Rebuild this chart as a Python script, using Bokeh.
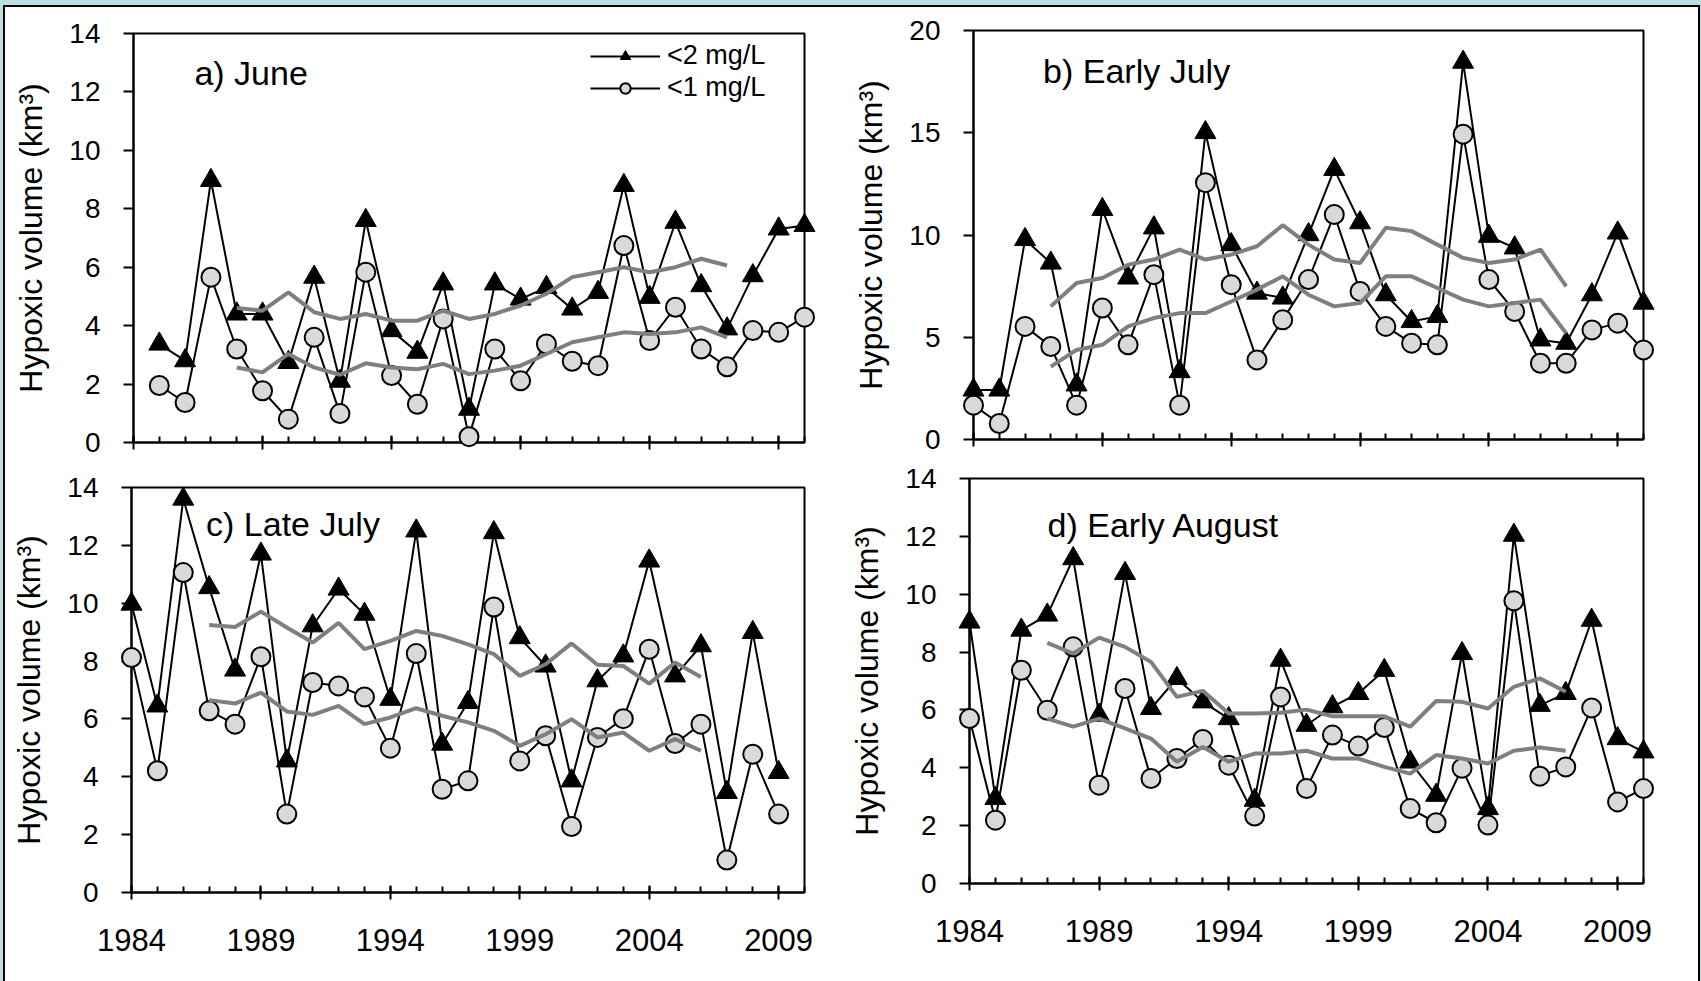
from bokeh.plotting import figure
from bokeh.layouts import row, column
from bokeh.models import (Range1d, FixedTicker, Label, Legend, LegendItem,
                          CustomLabelingPolicy)
from bokeh.embed import file_html
from bokeh.resources import INLINE

# ---------------- data: hypoxic volume (km^3) ----------------
# a) June
years_june = list(range(1985, 2011))
june_lt2 = [3.37, 2.80, 8.97, 4.40, 4.40, 2.74, 5.66, 2.10, 7.60, 3.83, 3.09, 5.43, 1.14,
            5.43, 4.91, 5.31, 4.57, 5.14, 8.80, 4.97, 7.54, 5.37, 3.89, 5.71, 7.31, 7.43]
june_lt1 = [1.95, 1.37, 5.66, 3.20, 1.77, 0.80, 3.60, 0.99, 5.83, 2.29, 1.31, 4.23, 0.20,
            3.20, 2.11, 3.37, 2.78, 2.63, 6.74, 3.49, 4.63, 3.20, 2.59, 3.83, 3.77, 4.29]
years_june_avg = list(range(1988, 2008))
june_lt2_avg = [4.60, 4.51, 5.14, 4.46, 4.23, 4.40, 4.17, 4.17, 4.51, 4.23,
                4.40, 4.69, 5.09, 5.66, 5.83, 6.00, 5.83, 6.00, 6.29, 6.06]
june_lt1_avg = [2.57, 2.40, 3.03, 2.57, 2.32, 2.71, 2.57, 2.51, 2.69, 2.34,
                2.46, 2.63, 3.03, 3.43, 3.60, 3.77, 3.71, 3.77, 3.94, 3.60]

# b) Early July
years_ejul = list(range(1984, 2011))
ejul_lt2 = [2.42, 2.42, 9.78, 8.63, 2.67, 11.25, 7.90, 10.35, 3.32, 15.01, 9.53, 7.16, 6.92, 10.02,
            13.21, 10.60, 7.08, 5.77, 6.02, 18.45, 9.94, 9.37, 4.87, 4.71, 7.08, 10.10, 6.67]
ejul_lt1 = [1.68, 0.78, 5.53, 4.55, 1.68, 6.43, 4.63, 8.06, 1.68, 12.56, 7.57, 3.89, 5.85, 7.82,
            11.00, 7.24, 5.53, 4.71, 4.63, 14.93, 7.82, 6.26, 3.73, 3.73, 5.36, 5.69, 4.38]
years_ejul_avg = list(range(1987, 2008))
ejul_lt2_avg = [6.51, 7.65, 7.90, 8.55, 8.80, 9.29, 8.80, 9.04, 9.45, 10.48, 9.53,
                8.80, 8.63, 10.35, 10.19, 9.53, 8.88, 8.63, 8.80, 9.29, 7.49]
ejul_lt1_avg = [3.56, 4.38, 4.63, 5.53, 5.94, 6.18, 6.18, 6.75, 7.33, 7.98, 7.08,
                6.51, 6.67, 7.98, 7.98, 7.41, 6.84, 6.51, 6.67, 6.84, 5.20]

# c) Late July
years_ljul = list(range(1984, 2010))
ljul_lt2 = [9.97, 6.45, 13.60, 10.54, 7.69, 11.70, 4.55, 9.22, 10.49, 9.62, 6.68, 12.50, 5.13,
            6.57, 12.44, 8.81, 7.83, 3.86, 7.32, 8.18, 11.46, 7.49, 8.53, 3.46, 8.99, 4.15]
ljul_lt1 = [8.12, 4.21, 11.06, 6.28, 5.82, 8.15, 2.71, 7.26, 7.14, 6.76, 4.99, 8.26, 3.57,
            3.86, 9.87, 4.55, 5.42, 2.28, 5.36, 6.01, 8.41, 5.15, 5.82, 1.12, 4.78, 2.71]
years_ljul_avg = list(range(1987, 2007))
ljul_lt2_avg = [9.25, 9.18, 9.71, 9.16, 8.64, 9.32, 8.41, 8.70, 9.04, 8.87,
                8.58, 8.24, 7.49, 7.89, 8.61, 7.87, 7.83, 7.22, 7.95, 7.45]
ljul_lt1_avg = [6.65, 6.53, 6.91, 6.26, 6.14, 6.45, 5.82, 6.05, 6.37, 6.11,
                5.88, 5.59, 5.07, 5.47, 5.99, 5.36, 5.53, 4.90, 5.30, 4.90]

# d) Early August
years_eaug = list(range(1984, 2011))
eaug_lt2 = [9.04, 2.94, 8.76, 9.28, 11.23, 5.82, 10.72, 6.05, 7.09, 6.28, 5.70, 2.88, 7.72, 5.47,
            6.11, 6.57, 7.37, 4.20, 3.05, 7.95, 2.59, 12.04, 6.16, 6.57, 9.10, 5.01, 4.55]
eaug_lt1 = [5.70, 2.19, 7.37, 5.99, 8.18, 3.40, 6.74, 3.63, 4.32, 4.98, 4.09, 2.33, 6.45, 3.28,
            5.13, 4.75, 5.39, 2.59, 2.10, 3.98, 2.02, 9.77, 3.71, 4.03, 6.07, 2.82, 3.28]
years_eaug_avg = list(range(1987, 2008))
eaug_lt2_avg = [8.32, 7.95, 8.50, 8.18, 7.66, 6.45, 6.66, 5.88, 5.88, 5.90, 6.01,
                5.78, 5.78, 5.78, 5.42, 6.31, 6.28, 6.05, 6.80, 7.09, 6.63]
eaug_lt1_avg = [5.70, 5.42, 5.70, 5.36, 5.01, 4.21, 4.72, 4.21, 4.49, 4.49, 4.59,
                4.32, 4.32, 4.03, 3.80, 4.44, 4.32, 4.15, 4.59, 4.70, 4.59]

# axis ticks
major_years = [1984, 1989, 1994, 1999, 2004, 2009]
minor_years = list(range(1984, 2011))
ticks_14 = [0, 2, 4, 6, 8, 10, 12, 14]
ticks_20 = [0, 5, 10, 15, 20]

FONT = "Liberation Sans"
PAGE_BG = "#b8dfe4"
DOT_FILL = "#d9d9d9"
AVG_GRAY = "#7f7f7f"

# drop every tick label (top panels show tick marks only)
HIDE_LABELS = ("for (let i = 0; i < indices.size; i++) { indices.unset(i) }\n"
               "return indices")


def build_panel(size, borders, margin, y_max, y_ticks, years, lt2, lt1,
                avg_years, lt2_avg, lt1_avg, title, title_x, title_y, show_years):
    width, height = size
    left, right, top, bottom = borders
    p = figure(width=width, height=height,
               x_range=Range1d(1984, 2010), y_range=Range1d(0, y_max),
               output_backend="svg", toolbar_location=None,
               min_border_left=left, min_border_right=right,
               min_border_top=top, min_border_bottom=bottom,
               background_fill_color="white", border_fill_color="white")
    p.margin = margin
    p.xgrid.visible = False
    p.ygrid.visible = False
    p.outline_line_color = "black"
    p.outline_line_width = 2
    p.outline_line_alpha = 1.0

    xa = p.xaxis[0]
    xa.ticker = FixedTicker(ticks=major_years, minor_ticks=minor_years)
    xa.axis_line_width = 2
    xa.axis_line_color = "black"
    xa.major_tick_line_width = 2
    xa.major_tick_line_color = "black"
    xa.major_tick_in = 7
    xa.major_tick_out = 7
    xa.minor_tick_line_width = 2
    xa.minor_tick_line_color = "black"
    xa.minor_tick_in = 6
    xa.minor_tick_out = 0
    xa.major_label_text_font = FONT
    xa.major_label_text_color = "black"
    if show_years:
        xa.major_label_text_font_size = "31px"
        xa.major_label_standoff = 29
    else:
        xa.major_label_policy = CustomLabelingPolicy(code=HIDE_LABELS)
        xa.major_label_text_font_size = "0px"
        xa.major_label_standoff = 0

    ya = p.yaxis[0]
    ya.ticker = FixedTicker(ticks=y_ticks)
    ya.axis_line_width = 2
    ya.axis_line_color = "black"
    ya.major_tick_line_width = 2
    ya.major_tick_line_color = "black"
    ya.major_tick_in = 0
    ya.major_tick_out = 10
    ya.minor_tick_line_color = None
    ya.major_label_text_font = FONT
    ya.major_label_text_font_size = "28px"
    ya.major_label_text_color = "black"
    ya.major_label_standoff = 23
    ya.axis_label = "Hypoxic volume (km³)"
    ya.axis_label_text_font = FONT
    ya.axis_label_text_font_size = "32px"
    ya.axis_label_text_font_style = "normal"
    ya.axis_label_text_color = "black"
    ya.axis_label_standoff = 17

    # <2 mg/L series (triangles) and <1 mg/L series (circles)
    r2_line = p.line(years, lt2, line_color="black", line_width=2, level="overlay")
    r2_pts = p.scatter(years, lt2, marker="triangle", size=21, fill_color="black",
                       line_color="black", line_width=1, level="overlay")
    r1_line = p.line(years, lt1, line_color="black", line_width=2, level="overlay")
    r1_pts = p.scatter(years, lt1, marker="circle", size=19, fill_color=DOT_FILL,
                       line_color="black", line_width=2, level="overlay")
    # running means
    p.line(avg_years, lt2_avg, line_color=AVG_GRAY, line_width=4, level="overlay")
    p.line(avg_years, lt1_avg, line_color=AVG_GRAY, line_width=4, level="overlay")

    p.add_layout(Label(x=title_x, y=title_y, text=title, text_font=FONT,
                       text_font_size="34px", text_baseline="middle", text_align="left",
                       text_color="black"))
    return p, (r2_line, r2_pts, r1_line, r1_pts)


pa, ra = build_panel((830, 448), (128, 31, 23, 16), (3, 0, 0, 0), 14, ticks_14,
                     years_june, june_lt2, june_lt1, years_june_avg, june_lt2_avg, june_lt1_avg,
                     "a) June", 1986.36, 12.64, False)
pb, _ = build_panel((863, 448), (138, 55, 23, 16), (0, 0, 3, 0), 20, ticks_20,
                    years_ejul, ejul_lt2, ejul_lt1, years_ejul_avg, ejul_lt2_avg, ejul_lt1_avg,
                    "b) Early July", 1986.70, 18.0, False)
pc, _ = build_panel((830, 514), (126, 31, 20, 89), (9, 0, 0, 0), 14, ticks_14,
                    years_ljul, ljul_lt2, ljul_lt1, years_ljul_avg, ljul_lt2_avg, ljul_lt1_avg,
                    "c) Late July", 1986.88, 12.73, True)
pd_, _ = build_panel((863, 514), (134, 55, 20, 89), (0, 0, 9, 0), 14, ticks_14,
                     years_eaug, eaug_lt2, eaug_lt1, years_eaug_avg, eaug_lt2_avg, eaug_lt1_avg,
                     "d) Early August", 1987.01, 12.38, True)

legend = Legend(items=[LegendItem(label="<2 mg/L", renderers=[ra[0], ra[1]]),
                       LegendItem(label="<1 mg/L", renderers=[ra[2], ra[3]])],
                location=(457, 339), orientation="vertical", padding=0, margin=0, spacing=1,
                glyph_width=70, glyph_height=26, label_height=30, label_standoff=7,
                label_text_font=FONT, label_text_font_size="27px", label_text_color="black",
                background_fill_alpha=0, border_line_alpha=0)
pa.add_layout(legend)

grid = column(row(column(pa), column(pb)), row(column(pc), column(pd_)))
grid.margin = (7, 3, 0, 5)
grid.styles = {"outline": "2px solid black", "background-color": "white"}
page = column(grid, styles={"background-color": PAGE_BG})

open("out.html", "w").write(file_html(page, INLINE))
